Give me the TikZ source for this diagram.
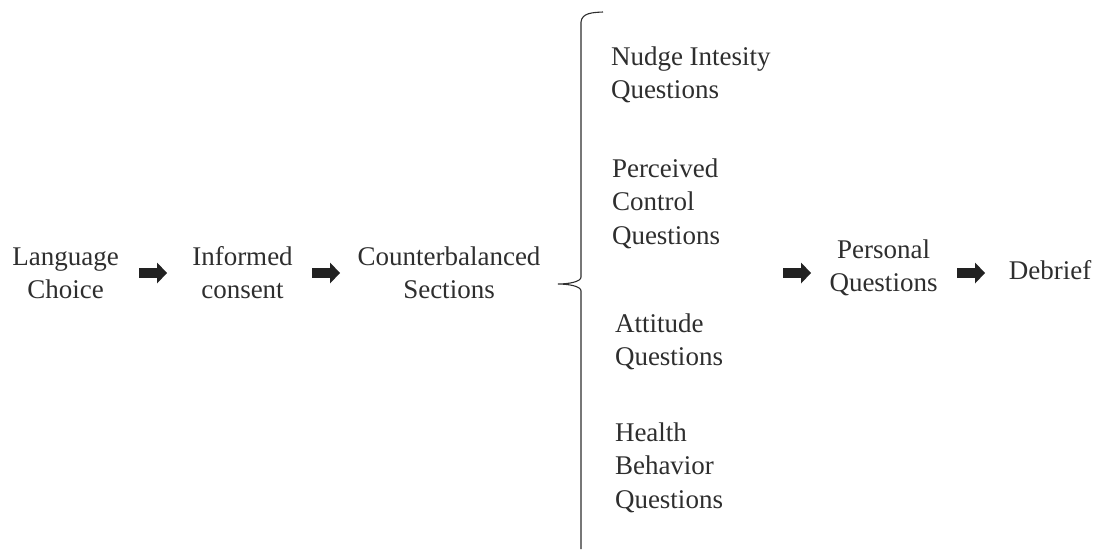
\documentclass[tikz,border=0pt]{standalone}
\usepackage{fontspec}
\setmainfont{Liberation Serif}
\usetikzlibrary{arrows.meta}
\newcommand\tstrut{\rule{0pt}{20pt}}
\definecolor{txtcol}{HTML}{2E2E2E}
\definecolor{arrcol}{HTML}{222222}
\tikzset{
  txt/.style={inner sep=0pt, outer sep=0pt, text=txtcol,
    font=\fontsize{27pt}{33.5pt}\selectfont},
  ctxt/.style={txt, anchor=north, align=center},
  ltxt/.style={txt, anchor=north west, align=left},
  blockarrow/.style={draw=arrcol, line width=10pt,
    -{Triangle[length=10pt 0, width=21pt 0, line width=0pt]}},
  braceline/.style={draw=txtcol, line width=1.1pt}
}
\begin{document}
\begin{tikzpicture}[x=1pt,y=-1pt]
\useasboundingbox (0,0) rectangle (1100,549);

% main flow
\node[ctxt] (lang) at (65.5,245) {\tstrut Language\\Choice};
\node[ctxt] (inf)  at (242.5,245) {\tstrut Informed\\consent};
\node[ctxt] (cnt)  at (449,245) {\tstrut Counterbalanced\\Sections};
\node[ctxt] (pers) at (883.5,238) {\tstrut Personal\\Questions};
\node[ctxt] (deb)  at (1050,259) {\tstrut Debrief};

% counterbalanced sections
\node[ltxt] (nudge) at (611,45)  {\tstrut Nudge Intesity\\Questions};
\node[ltxt] (perc)  at (612,157) {\tstrut Perceived\\Control\\Questions};
\node[ltxt] (att)   at (615,312) {\tstrut Attitude\\Questions};
\node[ltxt] (hlth)  at (615,421) {\tstrut Health\\Behavior\\Questions};

% brace
\draw[braceline] (603,12) .. controls (592,12.5) and (582,13) .. (581,22)
  -- (581,277) .. controls (581,282) and (568,284) .. (558,284)
  .. controls (568,284) and (581,286) .. (581,291) -- (581,549);

% arrows
\coordinate (colR) at (783,273);
\draw[blockarrow, shorten <=73.5pt, shorten >=75.5pt]
  (lang.center |- colR) -- (inf.center |- colR);
\draw[blockarrow, shorten <=69.5pt, shorten >=109pt]
  (inf.center |- colR) -- (cnt.center |- colR);
\draw[blockarrow, shorten >=72.5pt]
  (colR) -- (pers.center |- colR);
\draw[blockarrow, shorten <=73.5pt, shorten >=65pt]
  (pers.center |- colR) -- (deb.center |- colR);
\end{tikzpicture}
\end{document}
